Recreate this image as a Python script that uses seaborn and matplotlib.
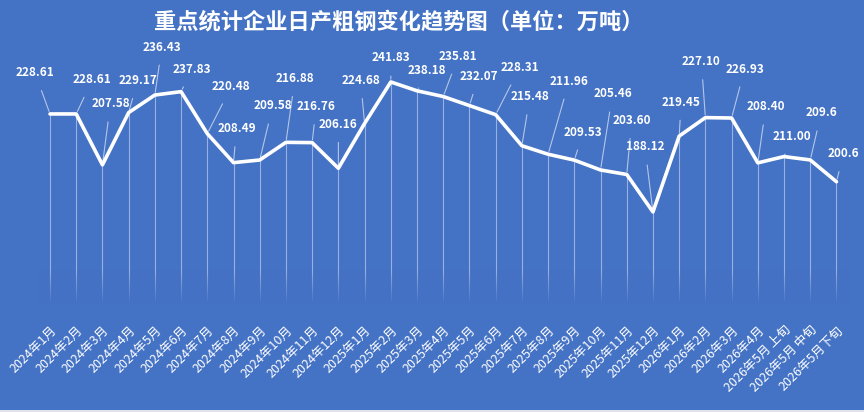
import numpy as np
import pandas as pd
import matplotlib
matplotlib.use("Agg")
import matplotlib.pyplot as plt
from matplotlib.colors import LinearSegmentedColormap
from matplotlib.patches import Rectangle
import seaborn as sns

# 月份标签
months = ["2024年1月", "2024年2月", "2024年3月", "2024年4月", "2024年5月", "2024年6月",
          "2024年7月", "2024年8月", "2024年9月", "2024年10月", "2024年11月", "2024年12月",
          "2025年1月", "2025年2月", "2025年3月", "2025年4月", "2025年5月", "2025年6月",
          "2025年7月", "2025年8月", "2025年9月", "2025年10月", "2025年11月", "2025年12月",
          "2026年1月", "2026年2月", "2026年3月", "2026年4月",
          "2026年5月 上旬", "2026年5月 中旬", "2026年5月下旬"]

# 日产粗钢（万吨）
output = [228.61, 228.61, 207.58, 229.17, 236.43, 237.83, 220.48, 208.49, 209.58, 216.88,
          216.76, 206.16, 224.68, 241.83, 238.18, 235.81, 232.07, 228.31, 215.48, 211.96,
          209.53, 205.46, 203.60, 188.12, 219.45, 227.10, 226.93, 208.40, 211.00, 209.6, 200.6]

value_text = ["228.61", "228.61", "207.58", "229.17", "236.43", "237.83", "220.48", "208.49",
              "209.58", "216.88", "216.76", "206.16", "224.68", "241.83", "238.18", "235.81",
              "232.07", "228.31", "215.48", "211.96", "209.53", "205.46", "203.60", "188.12",
              "219.45", "227.10", "226.93", "208.40", "211.00", "209.6", "200.6"]

# 标签偏移（像素）
label_offsets = [(-15, 41), (16, 34), (8, 61), (9, 32), (7, 48), (11, 22), (24, 47), (3, 34),
                 (13, 54), (9, 64), (4, 36), (0, 44), (-4, 43), (0, 24), (10, 20), (15, 40),
                 (9, 29), (24, 47), (8, 49), (21, 73), (9, 28), (12, 76), (5, 54), (-8, 65),
                 (2, 34), (-4, 56), (13, 49), (8, 56), (8, 20), (11, 47), (7, 28)]

bg = "#4472C4"
df = pd.DataFrame({"pos": np.arange(len(months)), "value": output})

sns.set_theme(style="white")
plt.rcParams["font.family"] = ["Noto Sans CJK SC", "DejaVu Sans"]

fig = plt.figure(figsize=(8.64, 4.12), dpi=100, facecolor=bg)
ax = fig.add_axes([0.0427, 0.2617, 0.9406, 0.6461])
ax.set_facecolor(bg)

lo, hi = 150, 260
ax.vlines(df["pos"], lo, df["value"], color="white", lw=0.8, alpha=0.45, zorder=1)

# 底部渐隐
cmap = LinearSegmentedColormap.from_list("fade", [(0.267, 0.447, 0.769, 0.0), (0.267, 0.447, 0.769, 1.0)])
grad = np.linspace(0, 1, 100).reshape(-1, 1)
ax.imshow(grad, extent=(-0.5, len(months) - 0.5, lo, 164), aspect="auto", cmap=cmap,
          origin="upper", zorder=2)

sns.lineplot(data=df, x="pos", y="value", ax=ax, color="white", lw=2.6, zorder=3)

for i, (x, y) in enumerate(zip(df["pos"], df["value"])):
    dx, dy = label_offsets[i]
    ax.annotate(value_text[i], xy=(x, y), xytext=(dx, dy), textcoords="offset pixels",
                ha="center", va="center", color="white", fontsize=8.5, fontweight="bold",
                arrowprops=dict(arrowstyle="-", color="white", lw=0.8, alpha=0.6,
                                shrinkA=6, shrinkB=2),
                zorder=4)

ax.set_xlim(-0.5, len(months) - 0.5)
ax.set_ylim(lo, hi)
ax.set_xticks(df["pos"])
ax.set_xticklabels(months, rotation=45, ha="right", rotation_mode="anchor",
                   color="white", fontsize=9)
ax.tick_params(axis="x", length=0, pad=14)
ax.set_yticks([])
ax.set_xlabel("")
ax.set_ylabel("")
sns.despine(ax=ax, left=True, bottom=True)

fig.text(0.462, 0.947, "重点统计企业日产粗钢变化趋势图（单位：万吨）", ha="center", va="center",
         color="white", fontsize=16, fontweight="bold")

# 底部浅色边
fig.patches.append(Rectangle((0, 0), 1, 0.006, transform=fig.transFigure,
                             facecolor="#dfe4ec", edgecolor="none"))

fig.savefig("out.png", dpi=100, facecolor=bg)
